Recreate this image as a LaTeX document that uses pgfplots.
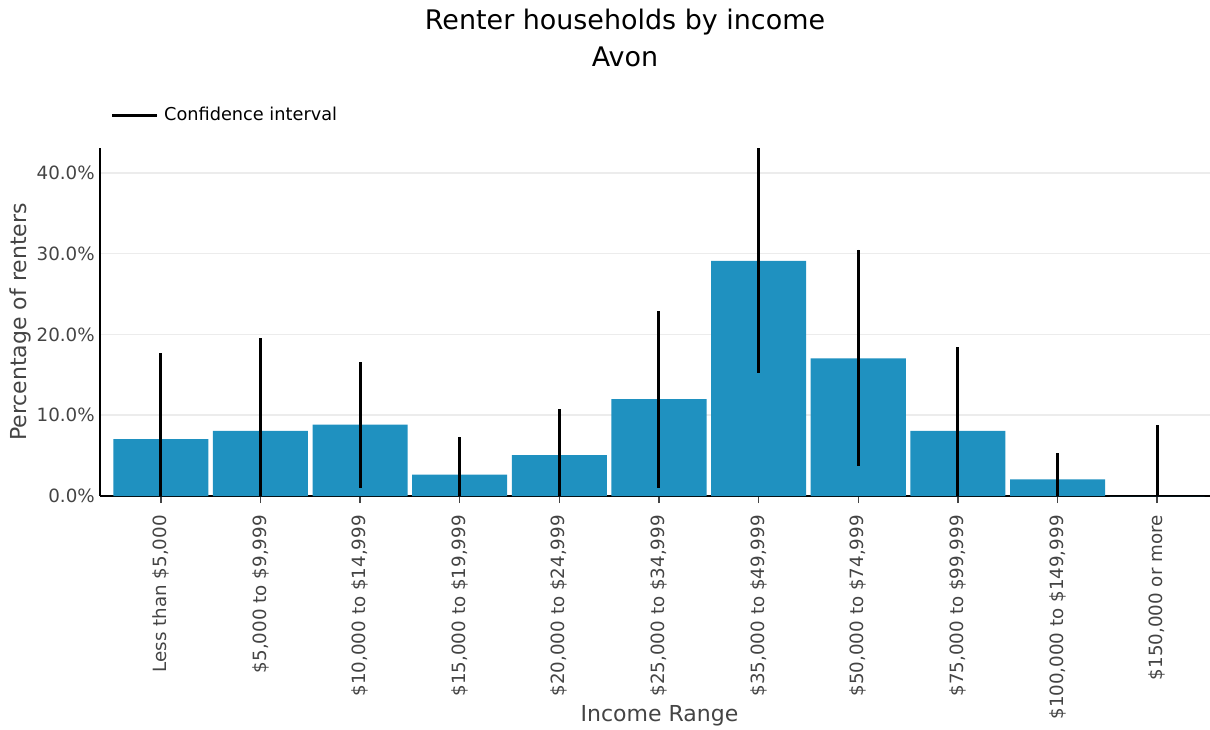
\documentclass[border=0pt]{standalone}
\usepackage{fontspec}
\setmainfont{DejaVu Sans}
\usepackage{pgfplots}
\pgfplotsset{compat=1.18}
\definecolor{barblue}{RGB}{31,145,192}
\definecolor{tickgrey}{RGB}{68,68,68}
\definecolor{gridgrey}{RGB}{236,236,236}
\begin{document}
\begin{tikzpicture}
\begin{axis}[
  name=ax, at={(0,0)}, anchor=south west,
  scale only axis, width=832.5pt, height=261pt,
  xmin=-0.61, xmax=10.53, ymin=0, ymax=43.08,
  axis x line*=bottom, axis y line*=left,
  axis line style={black, line width=1.1pt},
  xtick={0,1,2,3,4,5,6,7,8,9,10},
  xticklabels={{Less than \$5,000},{\$5,000 to \$9,999},{\$10,000 to \$14,999},{\$15,000 to \$19,999},{\$20,000 to \$24,999},{\$25,000 to \$34,999},{\$35,000 to \$49,999},{\$50,000 to \$74,999},{\$75,000 to \$99,999},{\$100,000 to \$149,999},{\$150,000 or more}},
  ytick={0,10,20,30,40},
  yticklabels={0.0\%,10.0\%,20.0\%,30.0\%,40.0\%},
  tick align=outside, major tick length=5.25pt,
  xtick style={tickgrey, line width=1.1pt},
  ytick style={draw=none},
  tick label style={font=\fontsize{13.7pt}{16pt}\selectfont, text=tickgrey},
  xticklabel style={rotate=90, anchor=east, inner sep=0pt},
  xticklabel shift=9pt,
  yticklabel style={anchor=east, inner sep=0pt},
  yticklabel shift=-1.5pt,
  ymajorgrids, major grid style={gridgrey, line width=1.1pt},
  xlabel={Income Range},
  ylabel={Percentage of renters},
  label style={font=\fontsize{16.5pt}{19pt}\selectfont, text=tickgrey},
  xlabel style={at={(axis description cs:0.504,-0.632)}, anchor=center},
  ylabel style={at={(axis description cs:-0.072,0.5)}, anchor=center, rotate=0},
  legend style={at={(axis description cs:0.0095,1.0948)}, anchor=west, draw=none, fill=none, inner sep=0pt,
    font=\fontsize{13.3pt}{15pt}\selectfont, text=black},
  legend cell align=left,
]
\addplot[ybar, bar width=0.954, fill=barblue, draw=none,
  legend image code/.code={\draw[black, line width=2.25pt] (0pt,0pt) -- (33.75pt,0pt);},
  error bars/.cd, y dir=both, y explicit, error mark=none,
  error bar style={draw=black, line width=2.25pt}]
coordinates {
  (0,7.05)  += (0,10.6)  -= (0,7.05)
  (1,8.05)  += (0,11.45) -= (0,8.05)
  (2,8.85)  += (0,7.75)  -= (0,7.85)
  (3,2.65)  += (0,4.7)   -= (0,2.65)
  (4,5.05)  += (0,5.7)   -= (0,5.05)
  (5,12.0)  += (0,10.9)  -= (0,11.0)
  (6,29.1)  += (0,14.0)  -= (0,13.9)
  (7,17.05) += (0,13.45) -= (0,13.35)
  (8,8.05)  += (0,10.35) -= (0,8.05)
  (9,2.05)  += (0,3.3)   -= (0,2.05)
  (10,0)    += (0,8.8)   -= (0,0)
};
\addlegendentry{\hspace{2pt}Confidence interval}
\end{axis}
\node[anchor=center, font=\fontsize{20.2pt}{23pt}\selectfont, text=black] at ([shift={(393.75pt,94.5pt)}]ax.north west) {Renter households by income};
\node[anchor=center, font=\fontsize{20.2pt}{23pt}\selectfont, text=black] at ([shift={(393.75pt,68.25pt)}]ax.north west) {Avon};
\pgfresetboundingbox
\path ([shift={(-75pt,-174.75pt)}]ax.south west) rectangle ([shift={(0pt,111pt)}]ax.north east);
\end{tikzpicture}
\end{document}
